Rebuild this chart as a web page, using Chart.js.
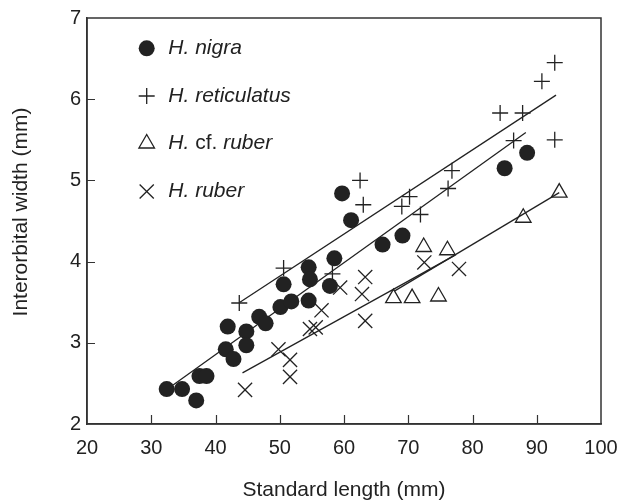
<!DOCTYPE html>
<html>
<head>
<meta charset="utf-8">
<script src="https://cdn.jsdelivr.net/npm/chart.js@4.4.1/dist/chart.umd.min.js"></script>
<style>
html,body{margin:0;padding:0;background:#fff;}
#wrap{width:632px;height:501px;}
</style>
</head>
<body>
<div id="wrap"><canvas id="c" width="632" height="501"></canvas></div>
<script>
// ---- data (standard length mm, interorbital width mm) ----
const nigraLength = [32.4,34.8,37.0,37.5,38.6,41.6,41.9,42.8,44.8,44.8,46.8,47.8,50.1,50.6,51.8,54.5,54.5,54.7,57.8,58.5,59.7,61.1,66.0,69.1,85.0,88.5];
const nigraWidth  = [2.43,2.43,2.29,2.59,2.59,2.92,3.20,2.80,3.14,2.97,3.32,3.24,3.44,3.72,3.51,3.52,3.93,3.78,3.70,4.04,4.84,4.51,4.21,4.32,5.15,5.34];

const reticulatusLength = [43.7,50.6,58.2,62.5,63.0,69.0,70.2,71.9,76.2,76.8,84.3,86.4,87.8,90.8,92.8,92.8];
const reticulatusWidth  = [3.49,3.92,3.85,5.00,4.70,4.68,4.80,4.58,4.90,5.12,5.83,5.49,5.83,6.22,6.45,5.50];

const cfRuberLength = [67.7,70.6,72.4,74.7,76.1,87.9,93.5];
const cfRuberWidth  = [3.55,3.55,4.18,3.57,4.14,4.54,4.85];

const ruberLength = [44.6,49.8,51.6,51.6,54.7,55.6,56.5,59.4,62.8,63.3,63.3,72.5,77.9];
const ruberWidth  = [2.42,2.92,2.79,2.58,3.17,3.19,3.40,3.68,3.60,3.81,3.27,3.99,3.91];

// regression lines (end points)
const nigraFitLength = [33.4,88.3];
const nigraFitWidth  = [2.48,5.59];
const reticulatusFitLength = [43.8,93.0];
const reticulatusFitWidth  = [3.50,6.05];
const cfRuberFitLength = [67.9,93.5];
const cfRuberFitWidth  = [3.64,4.85];
const ruberFitLength = [44.2,77.3];
const ruberFitWidth  = [2.63,4.08];

const xTickValues = [20,30,40,50,60,70,80,90,100];
const yTickValues = [2,3,4,5,6,7];

const xTitle = 'Standard length (mm)';
const yTitle = 'Interorbital width (mm)';
// legend labels: [text, italic]
const legendLabels = [
  [['H. nigra', true]],
  [['H. reticulatus', true]],
  [['H. ', true], ['cf. ', false], ['ruber', true]],
  [['H. ruber', true]]
];

// ---- build ----
const INK = '#222222';
const FONT = "'Liberation Sans', Arial, Helvetica, sans-serif";
const pts = (xs, ys) => xs.map((x, i) => ({x: x, y: ys[i]}));

const markerStyles = [
  {pointStyle: 'circle', radius: 8, borderWidth: 0, backgroundColor: INK, borderColor: INK},
  {pointStyle: 'cross', radius: 8, borderWidth: 1.3, backgroundColor: 'rgba(0,0,0,0)', borderColor: INK},
  {pointStyle: 'triangle', radius: 9, borderWidth: 1.3, backgroundColor: 'rgba(0,0,0,0)', borderColor: INK},
  {pointStyle: 'crossRot', radius: 10, borderWidth: 1.3, backgroundColor: 'rgba(0,0,0,0)', borderColor: INK}
];

function pointSet(label, xs, ys, s) {
  return {
    label: label, data: pts(xs, ys), showLine: false,
    pointStyle: s.pointStyle, pointRadius: s.radius, pointHoverRadius: s.radius,
    pointBorderWidth: s.borderWidth, pointBackgroundColor: s.backgroundColor,
    pointBorderColor: s.borderColor, order: 1
  };
}
function lineSet(label, xs, ys) {
  return {
    label: label, data: pts(xs, ys), showLine: true, pointRadius: 0, pointHoverRadius: 0,
    borderColor: INK, borderWidth: 1.3, fill: false, order: 2
  };
}

const datasets = [
  pointSet('H. nigra', nigraLength, nigraWidth, markerStyles[0]),
  pointSet('H. reticulatus', reticulatusLength, reticulatusWidth, markerStyles[1]),
  pointSet('H. cf. ruber', cfRuberLength, cfRuberWidth, markerStyles[2]),
  pointSet('H. ruber', ruberLength, ruberWidth, markerStyles[3]),
  lineSet('H. nigra fit', nigraFitLength, nigraFitWidth),
  lineSet('H. reticulatus fit', reticulatusFitLength, reticulatusFitWidth),
  lineSet('H. cf. ruber fit', cfRuberFitLength, cfRuberFitWidth),
  lineSet('H. ruber fit', ruberFitLength, ruberFitWidth)
];

const framePlugin = {
  id: 'frame',
  afterDatasetsDraw(chart) {
    const {ctx, chartArea: a, scales} = chart;
    ctx.save();
    ctx.strokeStyle = '#333333';
    ctx.lineWidth = 1.5;
    ctx.strokeRect(a.left, a.top, a.right - a.left, a.bottom - a.top);
    ctx.lineWidth = 1.2;
    ctx.beginPath();
    xTickValues.forEach(v => {
      const px = Math.round(scales.x.getPixelForValue(v)) + 0.5;
      if (px > a.left + 2 && px < a.right - 2) { ctx.moveTo(px, a.bottom); ctx.lineTo(px, a.bottom - 9); }
    });
    yTickValues.forEach(v => {
      const py = Math.round(scales.y.getPixelForValue(v)) + 0.5;
      if (py > a.top + 2 && py < a.bottom - 2) { ctx.moveTo(a.left, py); ctx.lineTo(a.left + 8, py); }
    });
    ctx.stroke();

    // y axis title
    ctx.fillStyle = INK;
    ctx.font = '21px ' + FONT;
    ctx.textAlign = 'center';
    ctx.textBaseline = 'middle';
    ctx.translate(21, (a.top + a.bottom) / 2 - 9);
    ctx.rotate(-Math.PI / 2);
    ctx.fillText(yTitle, 0, 0);
    ctx.restore();

    // legend
    ctx.save();
    const lx = 146.7, ys = [48.3, 96, 143.5, 191.5], tx = 168.3;
    legendLabels.forEach((parts, i) => {
      const s = markerStyles[i];
      ctx.save();
      ctx.fillStyle = s.backgroundColor;
      ctx.strokeStyle = s.borderColor;
      ctx.lineWidth = s.borderWidth;
      Chart.helpers.drawPoint(ctx, {pointStyle: s.pointStyle, radius: s.radius, borderWidth: s.borderWidth, rotation: 0}, lx, ys[i]);
      ctx.restore();
      let x = tx;
      ctx.fillStyle = INK;
      ctx.textBaseline = 'middle';
      ctx.textAlign = 'left';
      parts.forEach(([t, it]) => {
        ctx.font = (it ? 'italic ' : '') + '21px ' + FONT;
        ctx.fillText(t, x, ys[i]);
        x += ctx.measureText(t).width;
      });
    });
    ctx.restore();
  }
};

new Chart(document.getElementById('c'), {
  type: 'scatter',
  data: {datasets: datasets},
  options: {
    responsive: false,
    devicePixelRatio: 1,
    animation: false,
    events: [],
    layout: {padding: {top: 16, right: 31, left: 0, bottom: 0}},
    plugins: {legend: {display: false}, tooltip: {enabled: false}},
    scales: {
      x: {
        type: 'linear', min: 20, max: 100,
        afterBuildTicks: s => { s.ticks = xTickValues.map(v => ({value: v})); },
        afterFit: s => { s.height = 77; },
        ticks: {color: INK, font: {family: FONT, size: 20}, padding: 12, maxRotation: 0},
        grid: {display: true, drawOnChartArea: false, drawTicks: false},
        border: {display: true, color: '#333333', width: 1.5},
        title: {display: true, text: xTitle, color: INK, font: {family: FONT, size: 21}, padding: {top: 0, bottom: -2}}
      },
      y: {
        type: 'linear', min: 2, max: 7,
        afterBuildTicks: s => { s.ticks = yTickValues.map(v => ({value: v})); },
        afterFit: s => { s.width = 87; },
        ticks: {color: INK, font: {family: FONT, size: 20}, padding: 6},
        grid: {display: true, drawOnChartArea: false, drawTicks: false},
        border: {display: true, color: '#333333', width: 1.5},
        title: {display: false}
      }
    }
  },
  plugins: [framePlugin]
});
</script>
</body>
</html>
